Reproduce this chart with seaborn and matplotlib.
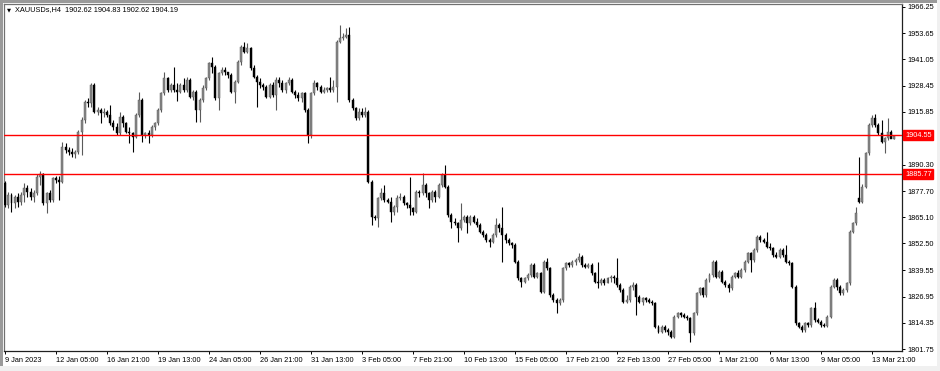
import matplotlib
matplotlib.use("Agg")
import matplotlib.pyplot as plt
import matplotlib.patches as mpatches
import numpy as np
import pandas as pd
import seaborn as sns

# ---------------- data (XAUUSDs, H4) ----------------
opens = [
1881.4,1871.0,1875.8,1871.8,1875.0,1872.6,1875.8,1879.4,1877.4,1875.0,
1876.6,1884.7,1885.8,1871.8,1876.6,1873.4,1883.9,1883.1,1882.3,1899.1,
1897.5,1896.7,1895.5,1896.3,1906.3,1911.9,1920.7,1919.9,1928.7,1915.9,
1916.7,1915.1,1915.9,1914.3,1910.3,1908.7,1905.5,1913.5,1910.3,1906.3,
1905.5,1903.9,1914.3,1921.5,1904.7,1905.5,1904.7,1908.7,1910.3,1916.7,
1924.7,1931.9,1926.3,1928.7,1926.3,1925.5,1928.7,1926.3,1931.1,1923.1,
1925.5,1916.7,1921.5,1927.1,1931.9,1939.2,1937.6,1922.3,1934.3,1936.0,
1934.8,1933.5,1925.5,1930.3,1939.9,1947.2,1944.8,1946.4,1936.8,1932.7,
1930.3,1928.7,1927.9,1923.1,1928.7,1923.9,1931.1,1929.5,1926.3,1929.5,
1931.1,1925.5,1923.9,1922.3,1924.7,1916.7,1904.7,1924.7,1929.5,1927.9,
1925.5,1926.3,1927.1,1926.3,1927.9,1949.6,1951.2,1952.0,1952.8,1921.5,
1917.5,1912.7,1915.9,1914.3,1915.9,1882.3,1865.4,1864.9,1874.2,1876.6,
1873.4,1872.6,1867.8,1870.2,1874.2,1875.0,1871.8,1871.0,1869.4,1867.8,
1877.4,1876.6,1880.6,1876.6,1873.4,1877.4,1875.0,1880.6,1885.5,1879.8,
1866.2,1863.0,1862.2,1859.8,1863.8,1865.4,1862.2,1865.4,1862.8,1861.4,
1858.2,1856.6,1854.2,1853.4,1856.6,1861.4,1859.8,1856.6,1854.2,1852.6,
1851.8,1843.8,1835.8,1834.2,1835.8,1837.4,1842.2,1836.6,1838.2,1829.4,
1843.8,1840.6,1827.8,1825.4,1823.7,1825.4,1840.6,1843.0,1842.2,1843.8,
1844.6,1846.2,1842.2,1841.4,1842.2,1838.2,1834.2,1833.4,1835.0,1833.4,
1835.8,1836.6,1835.8,1832.6,1830.1,1824.5,1825.3,1831.7,1832.5,1826.9,
1824.5,1826.1,1825.3,1824.5,1823.7,1812.5,1810.1,1812.5,1810.9,1810.1,
1807.7,1817.3,1818.9,1818.1,1817.3,1816.5,1809.3,1818.9,1828.5,1830.9,
1827.7,1834.9,1837.3,1843.8,1836.5,1838.9,1834.1,1832.5,1830.9,1836.5,
1838.1,1836.5,1839.7,1843.8,1847.8,1844.6,1849.4,1855.8,1854.2,1853.4,
1851.0,1850.2,1847.0,1846.2,1849.4,1847.0,1843.8,1843.0,1831.7,1814.1,
1812.5,1810.9,1814.1,1813.3,1821.3,1815.7,1814.9,1813.3,1812.9,1817.3,
1831.7,1834.9,1831.7,1828.5,1830.1,1833.3,1858.2,1862.2,1874.2,1872.6,
1879.8,1895.9,1909.5,1912.7,1909.5,1905.5,1901.5,1903.1,1906.3,1902.62,
]
highs = [
1882.5,1877.4,1876.6,1875.8,1876.6,1877.4,1881.4,1880.6,1879.0,1878.2,
1885.8,1887.4,1886.3,1877.4,1878.2,1884.7,1885.0,1885.0,1901.5,1900.7,
1899.1,1898.3,1897.5,1907.1,1913.5,1921.5,1922.3,1929.5,1929.5,1918.3,
1917.5,1917.5,1916.7,1919.1,1911.9,1910.3,1915.9,1914.3,1911.1,1908.7,
1906.3,1915.1,1925.5,1922.3,1906.3,1907.1,1909.5,1911.1,1917.5,1925.5,
1934.8,1932.7,1929.5,1937.6,1929.5,1929.5,1931.9,1932.7,1931.9,1926.3,
1926.3,1922.3,1928.7,1932.7,1940.0,1942.4,1938.4,1935.2,1937.6,1937.6,
1935.2,1934.3,1931.1,1940.8,1948.0,1949.3,1948.8,1947.2,1938.4,1933.5,
1931.9,1929.5,1928.7,1929.5,1930.3,1932.7,1932.7,1931.1,1930.3,1932.7,
1931.9,1926.3,1925.5,1925.5,1925.5,1917.5,1925.5,1931.1,1930.3,1928.7,
1927.9,1927.9,1932.7,1931.1,1950.4,1957.6,1953.6,1956.0,1956.8,1922.3,
1918.3,1917.5,1917.5,1918.3,1916.7,1883.1,1866.2,1875.0,1879.0,1880.6,
1874.2,1875.0,1871.0,1875.8,1876.6,1875.8,1872.6,1884.7,1870.2,1878.2,
1878.2,1886.3,1881.4,1877.4,1878.2,1878.2,1881.4,1886.3,1890.3,1880.6,
1867.0,1864.6,1863.0,1871.8,1866.2,1866.2,1866.2,1866.2,1864.6,1862.2,
1859.0,1857.4,1855.0,1857.4,1864.6,1862.2,1870.2,1857.4,1855.0,1853.4,
1852.6,1844.6,1836.6,1836.6,1838.2,1843.0,1843.0,1839.0,1839.0,1844.6,
1845.4,1841.4,1828.6,1826.2,1826.2,1841.4,1843.8,1843.8,1844.6,1845.4,
1847.8,1847.0,1843.0,1843.0,1843.0,1839.0,1843.8,1835.8,1835.8,1836.6,
1837.4,1837.4,1845.4,1833.4,1830.9,1827.7,1832.5,1834.1,1833.3,1827.7,
1826.9,1826.9,1826.1,1825.3,1824.5,1813.3,1813.3,1813.3,1811.7,1810.9,
1818.1,1819.7,1819.7,1818.9,1818.1,1817.3,1819.7,1829.3,1831.7,1831.7,
1835.7,1838.1,1844.6,1844.6,1839.7,1839.7,1834.9,1833.3,1837.3,1838.9,
1839.7,1840.5,1844.6,1848.6,1848.6,1850.2,1856.6,1856.6,1855.0,1858.2,
1852.6,1851.0,1848.6,1850.2,1850.2,1851.8,1844.6,1843.8,1832.5,1814.9,
1813.3,1814.9,1814.9,1822.1,1824.5,1816.5,1815.7,1814.1,1818.1,1832.5,
1835.7,1835.7,1832.5,1830.9,1834.1,1859.0,1863.0,1870.2,1894.3,1881.0,
1896.7,1910.3,1914.3,1914.8,1910.3,1911.9,1903.9,1912.7,1907.1,1904.83,
]
lows = [
1870.2,1869.4,1867.8,1869.4,1870.2,1871.0,1872.6,1875.0,1873.4,1872.6,
1875.8,1880.6,1871.0,1867.0,1872.6,1872.6,1881.4,1873.4,1881.4,1895.9,
1895.1,1894.3,1893.5,1895.5,1895.1,1910.3,1918.3,1918.3,1915.1,1914.3,
1910.3,1913.5,1913.5,1909.5,1907.1,1904.7,1904.7,1908.7,1905.5,1900.7,
1896.7,1903.1,1913.5,1901.5,1903.1,1900.7,1903.9,1907.1,1909.5,1915.9,
1923.9,1925.5,1925.5,1925.5,1921.0,1924.7,1925.5,1925.5,1922.3,1921.5,
1911.1,1911.1,1920.7,1926.3,1931.1,1934.3,1921.5,1916.7,1933.5,1933.5,
1931.9,1924.7,1919.9,1929.5,1938.4,1944.0,1944.0,1936.0,1931.9,1918.3,
1927.1,1926.3,1922.3,1922.3,1923.1,1916.7,1927.9,1925.5,1924.7,1928.7,
1924.7,1922.3,1921.0,1920.7,1915.9,1900.7,1903.1,1923.9,1926.3,1924.7,
1924.7,1925.5,1925.5,1925.5,1920.7,1948.8,1950.4,1951.2,1920.7,1916.7,
1911.9,1911.9,1913.5,1913.5,1881.4,1861.4,1863.8,1860.6,1873.4,1872.6,
1871.8,1863.0,1866.2,1867.8,1873.4,1871.0,1869.4,1866.2,1866.2,1867.0,
1875.0,1875.8,1875.0,1869.4,1872.6,1872.6,1874.2,1879.8,1879.0,1865.4,
1859.8,1861.4,1853.4,1859.0,1863.0,1857.4,1861.4,1862.2,1860.6,1857.4,
1855.8,1853.4,1851.0,1852.6,1855.8,1858.2,1843.8,1852.6,1851.8,1850.2,
1843.0,1835.0,1831.8,1833.4,1835.0,1836.6,1835.8,1835.8,1828.6,1828.6,
1839.8,1827.0,1824.5,1818.9,1822.9,1824.5,1839.8,1841.4,1841.4,1842.2,
1843.8,1841.4,1840.6,1840.6,1837.4,1833.4,1831.0,1832.6,1832.6,1833.4,
1834.2,1833.4,1831.8,1829.4,1823.7,1823.7,1824.5,1830.1,1818.1,1823.7,
1822.9,1824.5,1823.7,1822.9,1811.7,1809.3,1809.3,1810.1,1808.5,1806.9,
1806.9,1816.5,1817.3,1816.5,1815.7,1805.3,1808.5,1818.1,1827.7,1826.9,
1826.9,1834.1,1836.5,1835.7,1835.7,1833.3,1831.7,1829.3,1830.1,1835.7,
1835.7,1835.7,1838.9,1843.0,1838.9,1843.8,1848.6,1853.4,1852.6,1850.2,
1849.4,1846.2,1845.4,1845.4,1846.2,1843.0,1842.2,1830.9,1813.3,1811.7,
1810.1,1810.1,1812.5,1812.5,1814.9,1814.1,1812.5,1812.1,1812.1,1816.5,
1830.9,1830.1,1827.7,1827.7,1829.3,1832.5,1857.4,1861.4,1871.8,1871.8,
1879.0,1895.1,1908.7,1908.7,1904.7,1900.7,1895.9,1902.3,1903.1,1902.62,
]
closes = [
1871.0,1875.8,1871.8,1875.0,1872.6,1875.8,1879.4,1877.4,1875.0,1876.6,
1884.7,1885.8,1871.8,1876.6,1873.4,1883.9,1883.1,1882.3,1899.1,1897.5,
1896.7,1895.5,1896.3,1906.3,1911.9,1920.7,1919.9,1928.7,1915.9,1916.7,
1915.1,1915.9,1914.3,1910.3,1908.7,1905.5,1913.5,1910.3,1906.3,1905.5,
1903.9,1914.3,1921.5,1904.7,1905.5,1904.7,1908.7,1910.3,1916.7,1924.7,
1931.9,1926.3,1928.7,1926.3,1925.5,1928.7,1926.3,1931.1,1923.1,1925.5,
1916.7,1921.5,1927.1,1931.9,1939.2,1937.6,1922.3,1934.3,1936.0,1934.8,
1933.5,1925.5,1930.3,1939.9,1947.2,1944.8,1946.4,1936.8,1932.7,1930.3,
1928.7,1927.9,1923.1,1928.7,1923.9,1931.1,1929.5,1926.3,1929.5,1931.1,
1925.5,1923.9,1922.3,1924.7,1916.7,1904.7,1924.7,1929.5,1927.9,1925.5,
1926.3,1927.1,1926.3,1927.9,1949.6,1951.2,1952.0,1952.8,1921.5,1917.5,
1912.7,1915.9,1914.3,1915.9,1882.3,1865.4,1864.9,1874.2,1876.6,1873.4,
1872.6,1867.8,1870.2,1874.2,1875.0,1871.8,1871.0,1869.4,1867.8,1877.4,
1876.6,1880.6,1876.6,1873.4,1877.4,1875.0,1880.6,1885.5,1879.8,1866.2,
1863.0,1862.2,1859.8,1863.8,1865.4,1862.2,1865.4,1862.8,1861.4,1858.2,
1856.6,1854.2,1853.4,1856.6,1861.4,1859.8,1856.6,1854.2,1852.6,1851.8,
1843.8,1835.8,1834.2,1835.8,1837.4,1842.2,1836.6,1838.2,1829.4,1843.8,
1840.6,1827.8,1825.4,1823.7,1825.4,1840.6,1843.0,1842.2,1843.8,1844.6,
1846.2,1842.2,1841.4,1842.2,1838.2,1834.2,1833.4,1835.0,1833.4,1835.8,
1836.6,1835.8,1832.6,1830.1,1824.5,1825.3,1831.7,1832.5,1826.9,1824.5,
1826.1,1825.3,1824.5,1823.7,1812.5,1810.1,1812.5,1810.9,1810.1,1807.7,
1817.3,1818.9,1818.1,1817.3,1816.5,1809.3,1818.9,1828.5,1830.9,1827.7,
1834.9,1837.3,1843.8,1836.5,1838.9,1834.1,1832.5,1830.9,1836.5,1838.1,
1836.5,1839.7,1843.8,1847.8,1844.6,1849.4,1855.8,1854.2,1853.4,1851.0,
1850.2,1847.0,1846.2,1849.4,1847.0,1843.8,1843.0,1831.7,1814.1,1812.5,
1810.9,1814.1,1813.3,1821.3,1815.7,1814.9,1813.3,1812.9,1817.3,1831.7,
1834.9,1831.7,1828.5,1830.1,1833.3,1858.2,1862.2,1867.0,1872.6,1879.8,
1895.9,1909.5,1912.7,1909.5,1905.5,1901.5,1903.1,1906.3,1902.6,1904.19,
]

ytick_values = [1966.25, 1953.65, 1941.05, 1928.45, 1915.85, 1890.30, 1877.70,
                1865.10, 1852.50, 1839.55, 1826.95, 1814.35, 1801.75]
ytick_labels = ["1966.25", "1953.65", "1941.05", "1928.45", "1915.85", "1890.30", "1877.70",
                "1865.10", "1852.50", "1839.55", "1826.95", "1814.35", "1801.75"]
xtick_bars = [0, 16, 32, 48, 64, 80, 96, 112, 128, 144, 160, 176, 192, 208, 224, 240, 256, 272]
xtick_labels = ["9 Jan 2023", "12 Jan 05:00", "16 Jan 21:00", "19 Jan 13:00", "24 Jan 05:00",
                "26 Jan 21:00", "31 Jan 13:00", "3 Feb 05:00", "7 Feb 21:00", "10 Feb 13:00",
                "15 Feb 05:00", "17 Feb 21:00", "22 Feb 13:00", "27 Feb 05:00", "1 Mar 21:00",
                "6 Mar 13:00", "9 Mar 05:00", "13 Mar 21:00"]
level_lines = [1904.55, 1885.77]
level_labels = ["1904.55", "1885.77"]
bid_price = 1904.19
title = "XAUUSDs,H4  1902.62 1904.83 1902.62 1904.19"

# ---------------- style ----------------
sns.set_theme(style="white")
plt.rcParams['font.family'] = ['Liberation Sans', 'DejaVu Sans']
FS = 5.3

df = pd.DataFrame({"bar": np.arange(len(closes)), "open": opens, "high": highs,
                   "low": lows, "close": closes})
df["bull"] = df["close"] >= df["open"]
df["bottom"] = df[["open", "close"]].min(axis=1)
df["body"] = (df["close"] - df["open"]).abs().clip(lower=0.35)

W, H = 940, 371
fig = plt.figure(figsize=(W / 100, H / 100), dpi=100)
fig.patch.set_facecolor("white")
ax = fig.add_axes([4 / W, 1 - 351 / H, (902 - 4) / W, (351 - 4) / H])
ax.set_facecolor("white")

bull_c = "#8a8a8a"
bear_c = "#000000"
wick_colors = np.where(df["bull"], "#5a5a5a", bear_c)
ax.vlines(df["bar"], df["low"], df["high"], colors=wick_colors, linewidth=0.8, zorder=2)
face = np.where(df["bull"], bull_c, bear_c)
ax.bar(df["bar"], df["body"], bottom=df["bottom"], width=0.62, color=face,
       edgecolor=np.where(df["bull"], "#505050", bear_c), linewidth=0.3, zorder=3)

for lv in level_lines:
    ax.axhline(lv, color="#ff0000", linewidth=1.0, zorder=4)

ax.set_xlim(-0.35, 281.4)
ax.set_ylim(1800.79, 1967.69)

ax.yaxis.tick_right()
ax.set_yticks(ytick_values)
ax.set_yticklabels(ytick_labels)
ax.set_xticks(xtick_bars)
ax.set_xticklabels(xtick_labels)
for lbl in ax.get_xticklabels():
    lbl.set_horizontalalignment("left")
    lbl.set_x(0)
ax.tick_params(axis="y", which="both", right=True, left=False, direction="out",
               length=2.5, width=0.7, color="black", pad=1.5, labelsize=FS, labelcolor="black")
ax.tick_params(axis="x", which="both", bottom=True, direction="out",
               length=2.5, width=0.7, color="black", pad=1.8, labelsize=FS, labelcolor="black")
ax.grid(False)

for side in ["right", "bottom"]:
    ax.spines[side].set_color("#202020")
    ax.spines[side].set_linewidth(0.9)
for side in ["left", "top"]:
    ax.spines[side].set_color("#707070")
    ax.spines[side].set_linewidth(0.9)

# price labels on the right axis
ax.annotate("1904.19", xy=(1, bid_price), xycoords=("axes fraction", "data"),
            xytext=(2.2, -2.2), textcoords="offset points", ha="left", va="center",
            fontsize=FS, color="black", zorder=5, annotation_clip=False)
for lv, txt in zip(level_lines, level_labels):
    ax.annotate(txt, xy=(1, lv), xycoords=("axes fraction", "data"),
                xytext=(2.2, 0), textcoords="offset points", ha="left", va="center",
                fontsize=FS, color="white", zorder=6, annotation_clip=False,
                bbox=dict(boxstyle="square,pad=0.22", fc="#ff0000", ec="#ff0000"))

# window frame
fig.patches.append(mpatches.Rectangle((0, 1 - 2.5 / H), 1, 2.5 / H, transform=fig.transFigure,
                                      facecolor="#9a9a9a", edgecolor="none", zorder=0))
fig.patches.append(mpatches.Rectangle((0, 0), 2.5 / W, 1, transform=fig.transFigure,
                                      facecolor="#9a9a9a", edgecolor="none", zorder=0))
fig.patches.append(mpatches.Rectangle((0, 0), 1, 5 / H, transform=fig.transFigure,
                                      facecolor="#f0f0f0", edgecolor="none", zorder=0))
fig.patches.append(mpatches.Rectangle((1 - 3 / W, 0), 3 / W, 1, transform=fig.transFigure,
                                      facecolor="#f0f0f0", edgecolor="none", zorder=0))

# header text
fig.text(6.5 / W, 1 - 9.5 / H, "\u25bc", fontsize=3.8, color="black", va="center", ha="left",
         family=["DejaVu Sans"])
fig.text(15 / W, 1 - 9.5 / H, title, fontsize=FS, color="black", va="center", ha="left")

fig.savefig("out.png", dpi=100, facecolor="white")
